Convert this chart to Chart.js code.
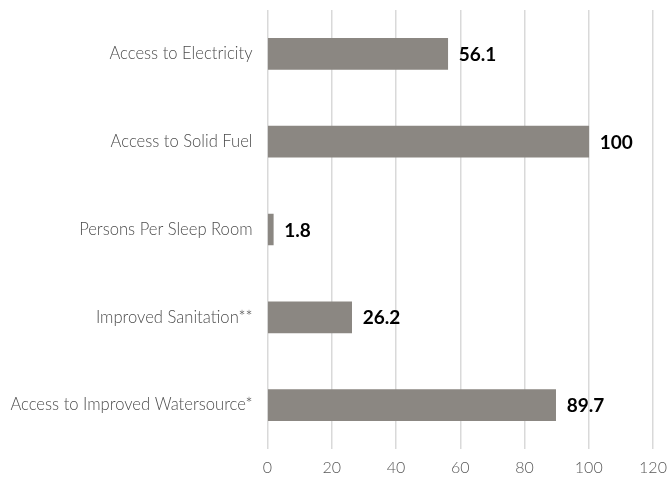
<!DOCTYPE html>
<html>
<head>
<meta charset="utf-8">
<script src="https://cdn.jsdelivr.net/npm/chart.js@4/dist/chart.umd.min.js"></script>
<style>
    html, body { margin: 0; padding: 0; background: #fff; }
    #Graph { display: block; }
</style>
</head>
<body>
<canvas id="Graph" width="669" height="477"></canvas>
<script>
const categories = [
    'Access to Electricity',
    'Access to Solid Fuel',
    'Persons Per Sleep Room',
    'Improved Sanitation**',
    'Access to Improved Watersource*'
];
const values = [56.1, 100, 1.8, 26.2, 89.7];
const valueLabels = ['56.1', '100', '1.8', '26.2', '89.7'];
const xTicks = [0, 20, 40, 60, 80, 100, 120];

// writes the bold number just past the end of each bar
const barValues = {
    id: 'barValues',
    afterDatasetsDraw(chart) {
        const ctx = chart.ctx;
        const meta = chart.getDatasetMeta(0);
        ctx.save();
        ctx.font = 'bold 19px Lato';
        ctx.fillStyle = '#000';
        ctx.textAlign = 'left';
        ctx.textBaseline = 'middle';
        meta.data.forEach((bar, i) => {
            ctx.fillText(valueLabels[i], bar.x + 11, bar.y + 1);
        });
        ctx.restore();
    }
};

const ctx = document.getElementById('Graph').getContext('2d');

new Chart(ctx, {
    type: 'bar',
    data: {
        labels: categories,
        datasets: [{
            data: values,
            backgroundColor: '#8b8782',
            borderWidth: 0,
            barThickness: 31
        }]
    },
    options: {
        indexAxis: 'y',
        responsive: false,
        animation: false,
        layout: { padding: { top: 10, right: 16, left: 0, bottom: 0 } },
        plugins: {
            legend: { display: false },
            tooltip: { enabled: false }
        },
        scales: {
            x: {
                min: 0,
                max: 120,
                afterBuildTicks: axis => {
                    axis.ticks = xTicks.map(v => ({ value: v }));
                },
                afterFit: axis => {
                    axis.height = 28;
                    axis.paddingLeft = 0;
                    axis.paddingRight = 0;
                },
                grid: {
                    color: '#d9d9d9',
                    lineWidth: 1.5,
                    drawTicks: false
                },
                border: { display: false },
                ticks: {
                    padding: 9,
                    color: '#595959',
                    font: { family: 'Lato', size: 16, weight: 300 }
                }
            },
            y: {
                afterFit: axis => {
                    axis.width = 267.5;
                    axis.paddingTop = 0;
                    axis.paddingBottom = 0;
                },
                grid: { display: false, drawTicks: false },
                border: { display: false },
                ticks: {
                    padding: 15,
                    color: '#4d4d4d',
                    font: { family: 'Lato', size: 16.6, weight: 300 }
                }
            }
        }
    },
    plugins: [barValues]
});
</script>
</body>
</html>
